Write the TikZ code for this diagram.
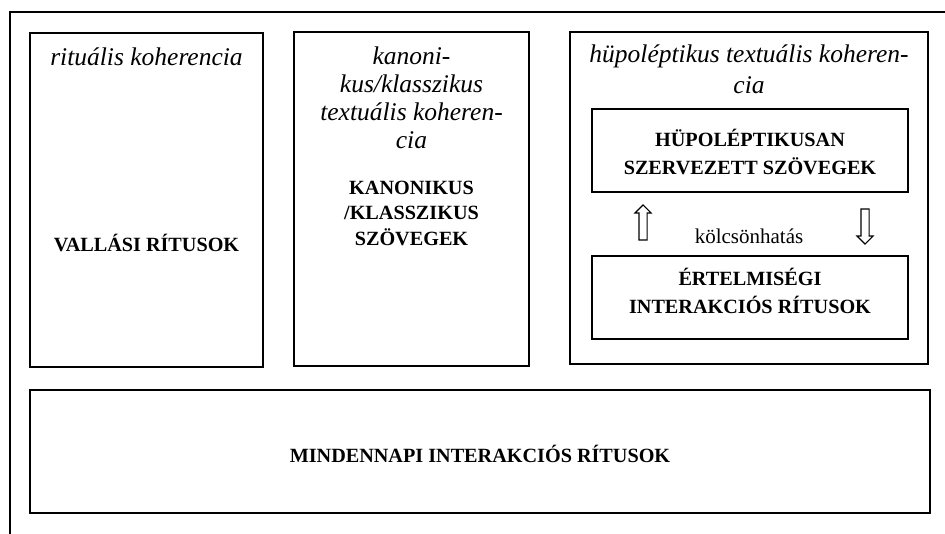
\documentclass[tikz,border=0pt]{standalone}
\usepackage{fontspec}
\setmainfont{Liberation Serif}
\usetikzlibrary{shapes.arrows}

\tikzset{
  keret/.style={draw, line width=1.3pt, inner sep=0pt},
  cim/.style={font=\fontsize{25.5}{28}\selectfont\itshape, align=center, inner sep=0pt},
  cimke/.style={font=\fontsize{20.2}{28}\selectfont\bfseries, align=center, inner sep=0pt},
  nyil/.style={single arrow, draw, line width=1.1pt, minimum height=35pt,
    single arrow head extend=4pt, inner sep=3.5pt}
}

\begin{document}
\begin{tikzpicture}[x=1pt,y=-1pt]
        \useasboundingbox (0,0) rectangle (945,534);
        % outer frame, cut off at the right and the bottom
        \draw[line width=1.2pt] (10,534) -- (10,12) -- (945,12);

        % three upper boxes
        \node[keret, minimum width=233pt, minimum height=334pt] (rit) at (146.5,200) {};
        \node[keret, minimum width=235pt, minimum height=334pt] (kan) at (411.5,199) {};
        \node[keret, minimum width=358pt, minimum height=332pt] (hup) at (749,198) {};
        \node[keret, minimum width=316pt, minimum height=83pt] (hupszov) at (750,150.5) {};
        \node[keret, minimum width=316pt, minimum height=83pt] (ertel) at (750,297.5) {};
        \node[keret, minimum width=900pt, minimum height=123pt] (minden) at (480,451.5) {};

        % texts
        \node[cim] (ritcim) at (146.5,57) {rituális koherencia};
        \node[cimke] (vallas) at (146.5,243) {VALLÁSI RÍTUSOK};
        \node[cim] (kancim) at (411.5,98) {kanoni-\\kus/klasszikus\\textuális koheren-\\cia};
        \node[cimke, font=\fontsize{20.2}{25.5}\selectfont\bfseries] (kanszov) at (411.5,213) {KANONIKUS\\/KLASSZIKUS\\SZÖVEGEK};
        \node[cim, font=\fontsize{25.5}{31}\selectfont\itshape] (hupcim) at (749,69) {hüpoléptikus textuális koheren-\\cia};
        \node[cimke] (hupszovt) at (750,152) {HÜPOLÉPTIKUSAN\\SZERVEZETT SZÖVEGEK};
        \node[cimke] (erteltxt) at (750,291) {ÉRTELMISÉGI\\INTERAKCIÓS RÍTUSOK};
        \node[cimke] (mindentxt) at (480,454) {MINDENNAPI INTERAKCIÓS RÍTUSOK};

        % interaction between the two inner boxes
        \node[font=\fontsize{21}{24}\selectfont, inner sep=0pt] (kolcson) at (749,236) {kölcsönhatás};
        \node[nyil, rotate=90] (fel) at (643,224.5) {};
        \node[nyil, rotate=-90] (le) at (865,224.5) {};
\end{tikzpicture}
\end{document}
